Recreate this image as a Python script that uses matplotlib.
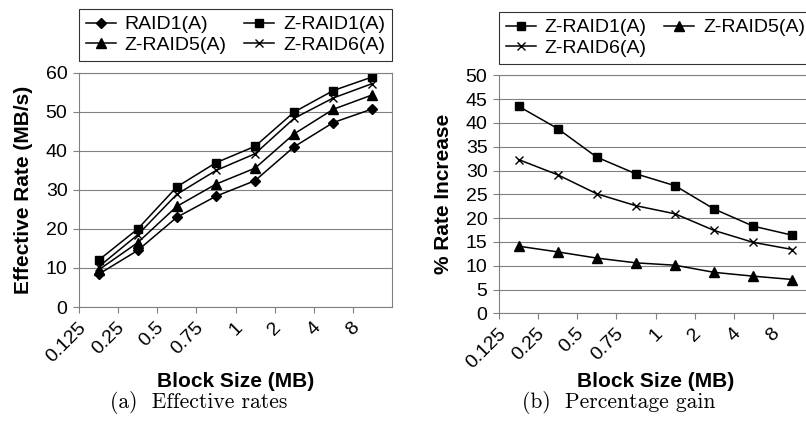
import matplotlib
matplotlib.use('Agg')
import matplotlib.pyplot as plt
import matplotlib.transforms as mtransforms
import numpy as np

plt.rcParams['font.family'] = ['Liberation Sans', 'DejaVu Sans']

# ---- data ----
block_sizes = ['0.125', '0.25', '0.5', '0.75', '1', '2', '4', '8']

raid1_a = [8.4, 14.5, 23.0, 28.4, 32.4, 41.1, 47.3, 50.8]
zraid1_a = [12.0, 20.0, 30.8, 37.0, 41.2, 50.0, 55.5, 59.0]
zraid5_a = [9.5, 16.5, 25.8, 31.5, 35.6, 44.4, 50.7, 54.4]
zraid6_a = [10.3, 18.5, 28.9, 35.0, 39.3, 48.4, 53.6, 57.3]

gain_zraid1 = [43.5, 38.8, 32.8, 29.3, 26.8, 21.9, 18.3, 16.4]
gain_zraid5 = [14.1, 12.9, 11.6, 10.6, 10.1, 8.6, 7.8, 7.1]
gain_zraid6 = [32.3, 29.1, 25.1, 22.6, 20.9, 17.4, 14.9, 13.4]

W, H = 806, 424
fig = plt.figure(figsize=(W / 100, H / 100), dpi=100)

AX1 = (79, 73, 313, 234)      # left, top, width, height in pixels
AX2 = (499, 75.3, 313, 238)
ax1 = fig.add_axes([AX1[0] / W, (H - AX1[1] - AX1[3]) / H, AX1[2] / W, AX1[3] / H])
ax2 = fig.add_axes([AX2[0] / W, (H - AX2[1] - AX2[3]) / H, AX2[2] / W, AX2[3] / H])

GRID = '#808080'
x = np.arange(len(block_sizes)) + 0.5
XLABEL_Y = 381.7


def style(ax, box, ymax, ystep):
    ax.set_xlim(0, len(block_sizes))
    ax.set_ylim(0, ymax)
    ax.set_yticks(np.arange(0, ymax + 0.1, ystep))
    ax.set_xticks(np.arange(len(block_sizes)))
    ax.set_xticklabels(block_sizes)
    ax.yaxis.grid(True, color=GRID, lw=0.8)
    ax.set_axisbelow(True)
    for s in ax.spines.values():
        s.set_color(GRID)
        s.set_linewidth(0.8)
    ax.tick_params(axis='both', colors=GRID, labelcolor='black', labelsize=14,
                   length=4.3, width=0.8, direction='out')
    ax.tick_params(axis='x', pad=8.5)
    ax.tick_params(axis='y', pad=4)
    off = mtransforms.ScaledTranslation(3 / 72, 0, fig.dpi_scale_trans)
    for lab in ax.get_xticklabels():
        lab.set_rotation(45)
        lab.set_rotation_mode('anchor')
        lab.set_ha('right')
        lab.set_va('center')
        lab.set_transform(lab.get_transform() + off)
    ax.set_xlabel('Block Size (MB)', fontsize=15, fontweight='bold')
    bottom = box[1] + box[3]
    ax.xaxis.set_label_coords(0.5, -(XLABEL_Y - bottom) / box[3])
    ax.xaxis.label.set_va('center')


# ---- left: effective rates ----
l_r1, = ax1.plot(x, raid1_a, marker='D', markersize=5, color='black', lw=1.1, label='RAID1(A)')
l_z1, = ax1.plot(x, zraid1_a, marker='s', color='black', lw=1.1, markersize=6, label='Z-RAID1(A)')
l_z5, = ax1.plot(x, zraid5_a, marker='^', color='black', lw=1.1, markersize=6.5, label='Z-RAID5(A)')
l_z6, = ax1.plot(x, zraid6_a, marker='x', color='black', lw=1.1, markersize=6, mew=1.0, label='Z-RAID6(A)')
style(ax1, AX1, 60, 10)
ax1.set_ylabel('Effective Rate (MB/s)', fontsize=15, fontweight='bold', labelpad=9)

leg_kw = dict(ncol=2, fontsize=14, frameon=True, fancybox=False, shadow=False,
              handlelength=1.55, handletextpad=0.45, columnspacing=0.9,
              borderpad=0.35, labelspacing=0.15, borderaxespad=0)
lg1 = fig.legend([l_r1, l_z5, l_z1, l_z6],
                 ['RAID1(A)', 'Z-RAID5(A)', 'Z-RAID1(A)', 'Z-RAID6(A)'],
                 loc='upper left', bbox_to_anchor=(79 / W, 1 - 9 / H), **leg_kw)
lg1.get_frame().set_edgecolor('black')
lg1.get_frame().set_linewidth(0.8)

# ---- right: percentage gain ----
g_z1, = ax2.plot(x, gain_zraid1, marker='s', color='black', lw=1.1, markersize=6, label='Z-RAID1(A)')
g_z5, = ax2.plot(x, gain_zraid5, marker='^', color='black', lw=1.1, markersize=6.5, label='Z-RAID5(A)')
g_z6, = ax2.plot(x, gain_zraid6, marker='x', color='black', lw=1.1, markersize=6, mew=1.0, label='Z-RAID6(A)')
style(ax2, AX2, 50, 5)
ax2.set_ylabel('% Rate Increase', fontsize=15, fontweight='bold', labelpad=9)

lg2 = fig.legend([g_z1, g_z6, g_z5],
                 ['Z-RAID1(A)', 'Z-RAID6(A)', 'Z-RAID5(A)'],
                 loc='upper left', bbox_to_anchor=(499 / W, 1 - 12 / H), **leg_kw)
lg2.get_frame().set_edgecolor('black')
lg2.get_frame().set_linewidth(0.8)

# ---- captions ----
fig.text(199 / W, 1 - 403 / H, '(a)  Effective rates', family='cmr10',
         fontsize=15.5, ha='center', va='center')
fig.text(619 / W, 1 - 403 / H, '(b)  Percentage gain', family='cmr10',
         fontsize=15.5, ha='center', va='center')

fig.savefig('out.png', dpi=100)
